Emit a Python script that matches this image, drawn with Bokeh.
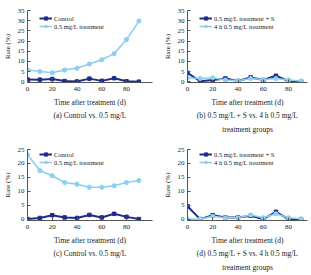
from bokeh.plotting import figure
from bokeh.layouts import gridplot
from bokeh.models import Range1d, FixedTicker, Legend, LegendItem
from bokeh.embed import file_html
from bokeh.resources import INLINE

# ---- data ----
x_vals = [0, 10, 20, 30, 40, 50, 60, 70, 80, 90]
x_ticks = [0, 20, 40, 60, 80]

# panel (a)
a_control = [1.1, 1.0, 1.3, 0.3, 0.1, 1.5, 0.4, 1.7, 0.2, 0.0]
a_treat = [5.9, 5.0, 4.4, 5.8, 6.6, 8.7, 10.8, 13.8, 20.7, 29.8]
# panel (b)
b_treat_s = [4.3, 0.2, 0.8, 1.6, 0.3, 2.1, 0.8, 2.9, 0.3, 0.1]
b_treat_4h = [1.9, 1.6, 1.9, 0.8, 0.5, 1.6, 1.1, 1.6, 0.8, 0.3]
# panel (c)
c_control = [0.1, 0.5, 1.5, 0.7, 0.5, 1.6, 0.7, 2.0, 0.9, 0.1]
c_treat = [23.1, 17.5, 15.6, 13.2, 12.6, 11.5, 11.5, 12.0, 13.2, 13.9]
# panel (d)
d_treat_s = [4.7, 0.1, 1.5, 0.7, 0.7, 1.3, 0.1, 2.7, 0.1, 0.0]
d_treat_4h = [0.1, 0.1, 1.1, 0.6, 0.6, 1.6, 0.6, 2.0, 0.6, 0.2]

top_yticks = [0, 5, 10, 15, 20, 25, 30, 35]
bot_yticks = [0, 5, 10, 15, 20, 25]

DARK = "#1f2d8a"
LIGHT = "#8ccfee"
FONT = "Liberation Serif"
TXT = "#222222"


def make_panel(w, h, left, top, xmax, ymax, yticks, s1, s2, n1, n2, xlabel, ylabel, leg_y):
    p = figure(width=w, height=h, output_backend="svg", toolbar_location=None,
               x_range=Range1d(0, xmax), y_range=Range1d(-0.4, ymax),
               min_border_left=left, min_border_top=top, min_border_right=3,
               min_border_bottom=10)
    p.outline_line_color = None
    p.xgrid.visible = False
    p.ygrid.visible = False
    p.background_fill_color = "white"
    p.border_fill_color = "white"
    r1 = p.line(x_vals, s1, color=DARK, line_width=2)
    m1 = p.scatter(x_vals, s1, marker="square", size=3.5, color=DARK)
    r2 = p.line(x_vals, s2, color=LIGHT, line_width=1.6)
    m2 = p.scatter(x_vals, s2, marker="asterisk", size=5, line_color=LIGHT, line_width=1.5)
    for ax in (p.xaxis[0], p.yaxis[0]):
        ax.axis_line_color = "#555555"
        ax.axis_line_width = 1
        ax.major_tick_line_color = "#555555"
        ax.major_tick_in = 3
        ax.major_tick_out = 0
        ax.minor_tick_line_color = None
        ax.major_label_text_font = FONT
        ax.major_label_text_font_size = "7px"
        ax.major_label_text_color = TXT
        ax.axis_label_text_font = FONT
        ax.axis_label_text_font_style = "normal"
        ax.axis_label_text_color = TXT
    p.xaxis.ticker = FixedTicker(ticks=x_ticks)
    p.yaxis.ticker = FixedTicker(ticks=yticks)
    p.xaxis.major_label_standoff = 4
    p.yaxis.major_label_standoff = 3
    p.xaxis.axis_label = xlabel
    p.xaxis.axis_label_text_font_size = "7.5px"
    p.xaxis.axis_label_text_line_height = 1.55
    p.xaxis.axis_label_standoff = 4
    p.yaxis.axis_label = ylabel
    p.yaxis.axis_label_text_font_size = "7px"
    p.yaxis.axis_label_standoff = 3
    leg = Legend(items=[LegendItem(label=n1, renderers=[r1, m1]),
                        LegendItem(label=n2, renderers=[r2, m2])],
                 location=(12, leg_y), border_line_color=None,
                 background_fill_alpha=0, padding=2, margin=0, spacing=0,
                 glyph_width=13, glyph_height=8, label_height=8,
                 label_standoff=2, label_text_font=FONT,
                 label_text_font_size="6.5px", label_text_color=TXT)
    p.add_layout(leg)
    return p


ylab = "Rate (%)"
pa = make_panel(155, 137, 25, 10, 101, 35, top_yticks, a_control, a_treat,
                "Control", "0.5 mg/L treatment",
                "Time after treatment (d)\n(a) Control vs. 0.5 mg/L", ylab, 52)
pb = make_panel(155, 137, 32, 10, 95, 35, top_yticks, b_treat_s, b_treat_4h,
                "0.5 mg/L treatment + S", "4 h 0.5 mg/L treatment",
                "Time after treatment (d)\n(b) 0.5 mg/L + S vs. 4 h 0.5 mg/L\ntreatment groups", ylab, 52)
pc = make_panel(155, 138, 25, 12, 101, 25, bot_yticks, c_control, c_treat,
                "Control", "0.5 mg/L treatment",
                "Time after treatment (d)\n(c) Control vs. 0.5 mg/L", ylab, 54)
pd = make_panel(155, 138, 32, 12, 95, 25, bot_yticks, d_treat_s, d_treat_4h,
                "0.5 mg/L treatment + S", "4 h 0.5 mg/L treatment",
                "Time after treatment (d)\n(d) 0.5 mg/L + S vs. 4 h 0.5 mg/L\ntreatment groups", ylab, 54)

grid = gridplot([[pa, pb], [pc, pd]], toolbar_location=None)
open("out.html", "w").write(file_html(grid, INLINE))
